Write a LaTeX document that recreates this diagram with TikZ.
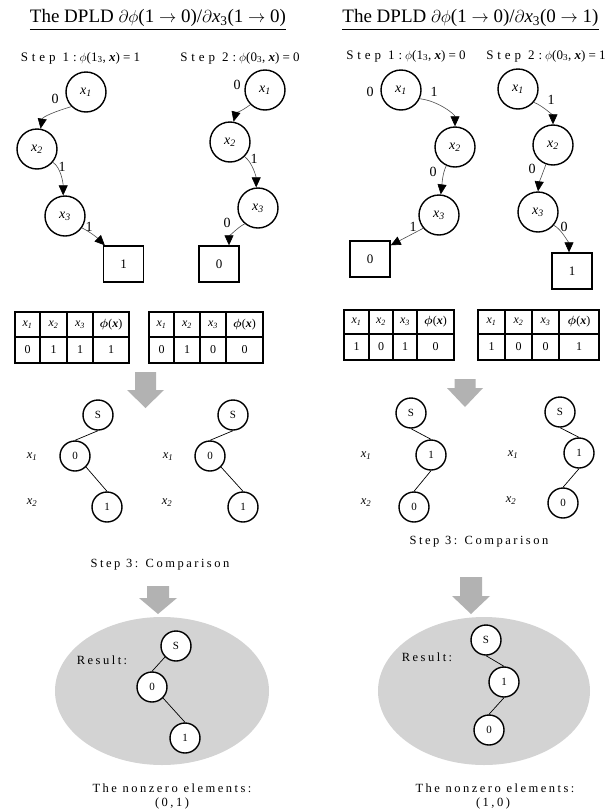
\documentclass[tikz,border=0pt]{standalone}
\usepackage{amsmath}
\usepackage{fontspec}
\setmainfont{Liberation Serif}
\newfontfamily\spc[LetterSpace=20]{Liberation Serif}
\newfontfamily\spcw[LetterSpace=30]{Liberation Serif}
\usetikzlibrary{arrows.meta}
\definecolor{arrowgray}{RGB}{178,178,178}
\definecolor{ellgray}{RGB}{211,211,211}
\newcommand\xv[1]{\textit{x}\textsubscript{\textit{#1}}}
\newcommand\garrow[6]{\fill[arrowgray] ({#1-#5},#2) -- ({#1+#5},#2) -- ({#1+#5},#3) -- ({#1+#6},#3) -- (#1,#4) -- ({#1-#6},#3) -- ({#1-#5},#3) -- cycle;}
\tikzset{
  vnode/.style={circle, draw, line width=1.4pt, minimum size=40pt, inner sep=0pt, fill=white, font=\fontsize{14}{14}\selectfont},
  tbox/.style={rectangle, draw, line width=1.4pt, minimum width=40pt, minimum height=36pt, inner sep=0pt, fill=white, font=\fontsize{13}{13}\selectfont},
  arr/.style={draw=black!70, line width=0.6pt, -{Triangle[length=10pt,width=9pt,color=black,fill=black]}},
  elab/.style={inner sep=0pt, font=\fontsize{14}{14}\selectfont},
  snode/.style={circle, draw, line width=1.4pt, minimum size=30pt, inner sep=0pt, fill=white, font=\fontsize{11}{11}\selectfont},
  sedge/.style={draw, line width=0.7pt},
  cellbox/.style={rectangle, draw, line width=1.6pt, inner sep=0pt, font=\fontsize{12}{12}\selectfont},
  titletext/.style={anchor=base, inner sep=0pt, font=\fontsize{19}{19}\selectfont},
  steptext/.style={anchor=base, inner sep=0pt, font=\fontsize{13}{13}\selectfont},
  lvl/.style={inner sep=0pt, font=\fontsize{12.5}{12.5}\selectfont},
  spaced/.style={inner sep=0pt, font=\fontsize{12.5}{12.5}\selectfont\spc},
}
\begin{document}
\begin{tikzpicture}[x=1pt,y=-1pt]
\fill[white] (0,0) rectangle (612,809);
\useasboundingbox (0,0) rectangle (612,809);

% titles
\node[titletext] (tl) at (158,22.5) {\underline{The DPLD $\partial\phi$(1 $\rightarrow$ 0)/$\partial$\textit{x}\textsubscript{3}(1 $\rightarrow$ 0)}};
\node[titletext] (tr) at (470.5,22.5) {\underline{The DPLD $\partial\phi$(1 $\rightarrow$ 0)/$\partial$\textit{x}\textsubscript{3}(0 $\rightarrow$ 1)}};

% step labels
\node[steptext] (s1l) at (80.5,61) {{\spcw Step 1:}\hspace{3pt}$\phi$(1\textsubscript{3}, \textbf{\textit{x}}) = 1};
\node[steptext] (s2l) at (240,61) {{\spcw Step 2:}\hspace{3pt}$\phi$(0\textsubscript{3}, \textbf{\textit{x}}) = 0};
\node[steptext] (s1r) at (406,59) {{\spcw Step 1:}\hspace{3pt}$\phi$(1\textsubscript{3}, \textbf{\textit{x}}) = 0};
\node[steptext] (s2r) at (546,59) {{\spcw Step 2:}\hspace{3pt}$\phi$(0\textsubscript{3}, \textbf{\textit{x}}) = 1};

% tree a (left, step 1)
\node[vnode] (a1) at (86,92) {\xv{1}};
\node[vnode] (a2) at (37,149) {\xv{2}};
\node[vnode] (a3) at (65,216) {\xv{3}};
\node[tbox] (a4) at (123.5,264) {1};
\draw[arr] (a1.225) .. controls +(-14,4) and +(2,-12) .. (a2.80);
\draw[arr] (a2.-40) .. controls +(8,5) and +(0,-12) .. (a3.95);
\draw[arr] (a3.-35) .. controls +(10,5) and +(-6,-6) .. ([xshift=2pt]a4.north west);
\node[elab] (la1) at (55,99) {0};
\node[elab] (la2) at (62,167) {1};
\node[elab] (la3) at (89,227) {1};

% tree b (left, step 2)
\node[vnode] (b1) at (265,90) {\xv{1}};
\node[vnode] (b2) at (230,142) {\xv{2}};
\node[vnode] (b3) at (258,208) {\xv{3}};
\node[tbox] (b4) at (219,264) {0};
\draw[arr] (b1.225) .. controls +(-8,6) and +(2,-8) .. (b2.80);
\draw[arr] (b2.-45) .. controls +(8,6) and +(0,-10) .. (b3.95);
\draw[arr] (b3.230) .. controls +(-8,4) and +(0,-8) .. ([xshift=10pt]b4.north);
\node[elab] (lb1) at (237,85) {0};
\node[elab] (lb2) at (254,159) {1};
\node[elab] (lb3) at (227,223) {0};

% tree c (right, step 1)
\node[vnode] (c1) at (401,90) {\xv{1}};
\node[vnode] (c2) at (455,147) {\xv{2}};
\node[vnode] (c3) at (439,215) {\xv{3}};
\node[tbox] (c4) at (370,259) {0};
\draw[arr] (c1.-25) .. controls +(18,2) and +(0,-12) .. (c2.90);
\draw[arr] (c2.245) .. controls +(-4,8) and +(1,-8) .. (c3.85);
\draw[arr] (c3.220) -- ([yshift=-5pt]c4.north east);
\node[elab] (lc0) at (370,92) {0};
\node[elab] (lc1) at (434,92) {1};
\node[elab] (lc2) at (433,172) {0};
\node[elab] (lc3) at (413,227) {1};

% tree d (right, step 2)
\node[vnode] (d1) at (518,89) {\xv{1}};
\node[vnode] (d2) at (553,145) {\xv{2}};
\node[vnode] (d3) at (538,212) {\xv{3}};
\node[tbox] (d4) at (572,271) {1};
\draw[arr] (d1.-40) .. controls +(10,4) and +(0,-8) .. (d2.90);
\draw[arr] (d2.250) .. controls +(-3,8) and +(1,-8) .. (d3.90);
\draw[arr] (d3.-40) .. controls +(8,4) and +(0,-8) .. ([xshift=-3pt]d4.north);
\node[elab] (ld1) at (551,100) {1};
\node[elab] (ld2) at (532,169) {0};
\node[elab] (ld3) at (564,227) {0};

% tables
\foreach \i/\xa/\xb/\h/\v in {1/15/40/{\xv{1}}/0, 2/40/67/{\xv{2}}/1, 3/67/93/{\xv{3}}/1, 4/93/129/{$\boldsymbol{\phi}$(\textbf{\textit{x}})}/1} {
  \node[cellbox, minimum width={(\xb-\xa)*1pt}, minimum height=25pt] (ta-h\i) at ({(\xa+\xb)/2},324.5) {\h};
  \node[cellbox, minimum width={(\xb-\xa)*1pt}, minimum height=26pt] (ta-v\i) at ({(\xa+\xb)/2},350) {\v};
}
\foreach \i/\xa/\xb/\h/\v in {1/149/174/{\xv{1}}/0, 2/174/200/{\xv{2}}/1, 3/200/226/{\xv{3}}/0, 4/226/263/{$\boldsymbol{\phi}$(\textbf{\textit{x}})}/0} {
  \node[cellbox, minimum width={(\xb-\xa)*1pt}, minimum height=25pt] (tb-h\i) at ({(\xa+\xb)/2},324.5) {\h};
  \node[cellbox, minimum width={(\xb-\xa)*1pt}, minimum height=26pt] (tb-v\i) at ({(\xa+\xb)/2},350) {\v};
}
\foreach \i/\xa/\xb/\h/\v in {1/344/369/{\xv{1}}/1, 2/369/393/{\xv{2}}/0, 3/393/417/{\xv{3}}/1, 4/417/454/{$\boldsymbol{\phi}$(\textbf{\textit{x}})}/0} {
  \node[cellbox, minimum width={(\xb-\xa)*1pt}, minimum height=24pt] (tc-h\i) at ({(\xa+\xb)/2},322) {\h};
  \node[cellbox, minimum width={(\xb-\xa)*1pt}, minimum height=26pt] (tc-v\i) at ({(\xa+\xb)/2},347) {\v};
}
\foreach \i/\xa/\xb/\h/\v in {1/478/505/{\xv{1}}/1, 2/505/532/{\xv{2}}/0, 3/532/559/{\xv{3}}/0, 4/559/599/{$\boldsymbol{\phi}$(\textbf{\textit{x}})}/1} {
  \node[cellbox, minimum width={(\xb-\xa)*1pt}, minimum height=24pt] (td-h\i) at ({(\xa+\xb)/2},322) {\h};
  \node[cellbox, minimum width={(\xb-\xa)*1pt}, minimum height=26pt] (td-v\i) at ({(\xa+\xb)/2},347) {\v};
}

% gray arrows
\garrow{145.5}{372}{390}{408}{10.5}{18.5}
\garrow{158}{586}{598}{614}{11}{19}
\garrow{465}{379}{388}{407}{10.5}{18}
\garrow{471}{577}{596}{614}{11}{19}

% step 3 trees left
\node[lvl] (ex1) at (32,457) {\xv{1}};
\node[lvl] (ex2) at (32,503) {\xv{2}};
\node[snode] (eS) at (98,415) {S};
\node[snode] (e0) at (75,456) {0};
\node[snode] (e1) at (107,507) {1};
\draw[sedge] (eS.south) -- (e0.north);
\draw[sedge] (e0.-45) -- (e1.north);
\node[lvl] (fx1) at (168,457) {\xv{1}};
\node[lvl] (fx2) at (167,503) {\xv{2}};
\node[snode] (fS) at (233,415) {S};
\node[snode] (f0) at (210,456) {0};
\node[snode] (f1) at (243,507) {1};
\draw[sedge] (fS.south) -- (f0.north);
\draw[sedge] (f0.-45) -- (f1.north);

% step 3 trees right
\node[lvl] (gx1) at (366,456) {\xv{1}};
\node[lvl] (gx2) at (366,503) {\xv{2}};
\node[snode] (gS) at (411,413) {S};
\node[snode] (g1) at (431,455) {1};
\node[snode] (g0) at (414,507) {0};
\draw[sedge] (gS.south) -- (g1.north);
\draw[sedge] (g1.south) -- (g0.north);
\node[lvl] (hx1) at (513,455) {\xv{1}};
\node[lvl] (hx2) at (511,501) {\xv{2}};
\node[snode] (hS) at (560,412) {S};
\node[snode] (h1) at (579,453) {1};
\node[snode] (h0) at (563,503) {0};
\draw[sedge] (hS.south) -- (h1.north);
\draw[sedge] (h1.south) -- (h0.north);

\node[spaced] (cmpl) at (160,565) {Step 3: Comparison};
\node[spaced] (cmpr) at (479,542) {Step 3: Comparison};

% results
\fill[ellgray] (162,691) ellipse [x radius=107pt, y radius=74pt];
\fill[ellgray] (484,691) ellipse [x radius=106pt, y radius=74pt];
\node[spaced] (resl) at (102,660) {Result:};
\node[snode] (rS) at (176,646) {S};
\node[snode] (r0) at (152,687) {0};
\node[snode] (r1) at (185,738) {1};
\draw[sedge] (rS.225) -- (r0.north);
\draw[sedge] (r0.-45) -- (r1.north);
\node[spaced] (resr) at (427,657) {Result:};
\node[snode] (sS) at (486,640) {S};
\node[snode] (s1) at (504,682) {1};
\node[snode] (s0) at (489,730) {0};
\draw[sedge] (sS.south) -- (s1.north);
\draw[sedge] (s1.south) -- (s0.north);

\node[spaced] (nzl) at (172,788) {The nonzero elements:};
\node[spaced] (nzl2) at (172,803) {(0,1)};
\node[spaced] (nzr) at (495,788) {The nonzero elements:};
\node[spaced] (nzr2) at (493,803) {(1,0)};
\end{tikzpicture}
\end{document}
